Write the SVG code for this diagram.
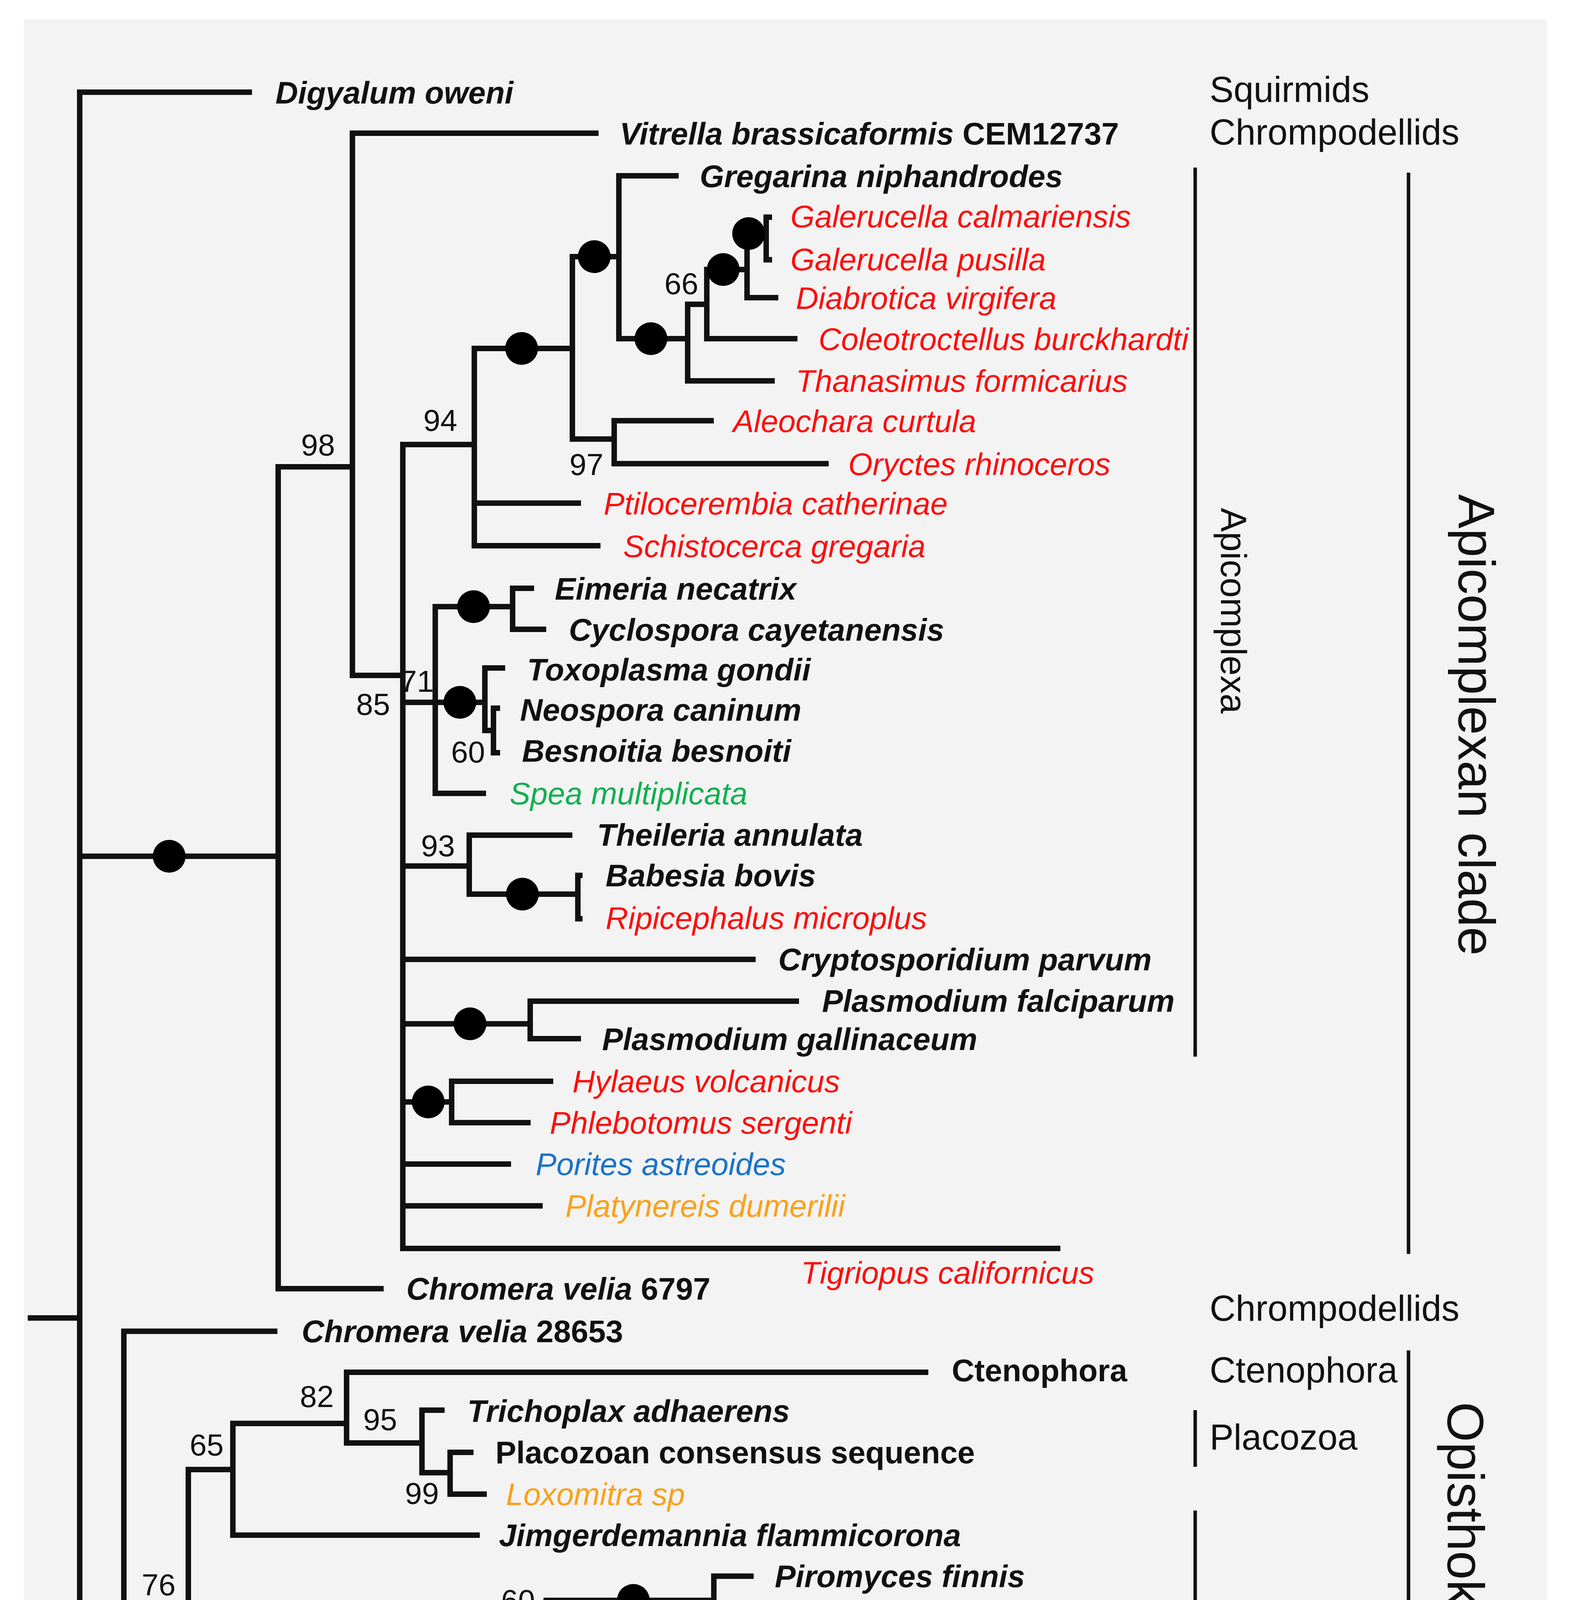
<svg xmlns="http://www.w3.org/2000/svg" width="4026" height="5242" viewBox="0 0 4026 5242">
<style>
.br{fill:none;stroke:#111;stroke-width:14;stroke-linejoin:miter;stroke-linecap:butt}
.bk{fill:none;stroke:#111;stroke-width:9}
.t{font-family:"Liberation Sans",Arial,sans-serif;font-size:80px;fill:#111}
.bi{font-weight:bold;font-style:italic}
.b{font-weight:bold}
.i{font-style:italic}
.red{fill:#ff0d0d;font-style:italic}
.grn{fill:#12b050;font-style:italic}
.blu{fill:#1a73c8;font-style:italic}
.org{fill:#f9a11b;font-style:italic}
.s{font-family:"Liberation Sans",Arial,sans-serif;font-size:78px;fill:#111;text-anchor:middle}
.g{font-family:"Liberation Sans",Arial,sans-serif;font-size:92px;fill:#111}
.c{font-family:"Liberation Sans",Arial,sans-serif;font-size:132px;fill:#111}
.dot{fill:#000}
</style>
<rect x="0" y="0" width="4026" height="5242" fill="#ffffff"/>
<rect x="61" y="50" width="3899" height="5147" fill="#f3f3f3"/>
<g id="connectors">
<path class="br" d="M645 236 H204 V4183 H317 M71 3374 H204 M204 2192 H712"/>
<path class="br" d="M902 1195 H712 V3299 H982"/>
<path class="br" d="M1532 341 H902 V1729 H1031"/>
<path class="br" d="M1214 1138 H1031 V3196 H2714 M1031 1798 H1114 M1031 2217 H1201 M1031 2456 H1934 M1031 2621 H1357 M1031 2821 H1156 M1031 2980 H1308 M1031 3087 H1389"/>
<path class="br" d="M1465 892 H1214 V1397 H1537 M1214 1288 H1487"/>
<path class="br" d="M1584 657 H1465 V1124 H1572"/>
<path class="br" d="M1737 450 H1584 V867 H1760"/>
<path class="br" d="M1809 779 H1760 V975 H1983"/>
<path class="br" d="M1912 690 H1809 V867 H2041"/>
<path class="br" d="M1961 598 H1912 V762 H1992"/>
<path class="br" d="M1976 556 H1961 V665 H1976"/>
<path class="br" d="M1827 1077 H1572 V1187 H2121"/>
<path class="br" d="M1312 1553 H1114 V2031 H1244 M1114 1798 H1241"/>
<path class="br" d="M1367 1506 H1312 V1611 H1398"/>
<path class="br" d="M1293 1710 H1241 V1870 H1263"/>
<path class="br" d="M1280 1813 H1263 V1927 H1280"/>
<path class="br" d="M1465 2138 H1201 V2289 H1479"/>
<path class="br" d="M1491 2241 H1479 V2352 H1491"/>
<path class="br" d="M2045 2563 H1357 V2659 H1487"/>
<path class="br" d="M1416 2768 H1156 V2874 H1358"/>
<path class="br" d="M710 3408 H317 V4987 H719 M317 4110 H482"/>
<path class="br" d="M596 3762 H482 V4581 H719"/>
<path class="br" d="M887 3644 H596 V3930 H1228"/>
<path class="br" d="M2376 3513 H887 V3694 H1080"/>
<path class="br" d="M1138 3610 H1080 V3770 H1152"/>
<path class="br" d="M1212 3718 H1152 V3825 H1246"/>
<path class="br" d="M987 4418 H719 V4883 H1742"/>
<path class="br" d="M1277 4264 H987 V4643 H1760"/>
<path class="br" d="M1398 4174 H1277 V4405 H1827"/>
<path class="br" d="M1827 4097 H1398 V4249 H2023"/>
<path class="br" d="M1929 4035 H1827 V4144 H1885"/>
<path class="br" d="M2023 4358 H1827 V4463 H1983"/>
<path class="br" d="M1916 4562 H1760 V4726 H1809"/>
<path class="br" d="M2081 4671 H1809 V4773 H2041"/>
</g>
<g id="support-dots">
<circle class="dot" cx="433" cy="2192" r="42"/>
<circle class="dot" cx="1335" cy="892" r="42"/>
<circle class="dot" cx="1521" cy="657" r="42"/>
<circle class="dot" cx="1666" cy="867" r="42"/>
<circle class="dot" cx="1851" cy="690" r="42"/>
<circle class="dot" cx="1916" cy="598" r="42"/>
<circle class="dot" cx="1212" cy="1553" r="42"/>
<circle class="dot" cx="1177" cy="1798" r="42"/>
<circle class="dot" cx="1337" cy="2289" r="42"/>
<circle class="dot" cx="1203" cy="2621" r="42"/>
<circle class="dot" cx="1096" cy="2821" r="42"/>
<circle class="dot" cx="846" cy="4418" r="42"/>
<circle class="dot" cx="1125" cy="4264" r="42"/>
<circle class="dot" cx="1621" cy="4097" r="42"/>
<circle class="dot" cx="1553" cy="4405" r="42"/>
<circle class="dot" cx="1342" cy="4643" r="42"/>
</g>
<g id="support-values">
<text class="s" x="814" y="1166">98</text>
<text class="s" x="1127" y="1103">94</text>
<text class="s" x="1744" y="753">66</text>
<text class="s" x="1501" y="1216">97</text>
<text class="s" x="955" y="1830">85</text>
<text class="s" x="1067" y="1771">71</text>
<text class="s" x="1198" y="1952">60</text>
<text class="s" x="1121" y="2192">93</text>
<text class="s" x="811" y="3602">82</text>
<text class="s" x="973" y="3661">95</text>
<text class="s" x="1080" y="3850">99</text>
<text class="s" x="529" y="3726">65</text>
<text class="s" x="406" y="4084">76</text>
<text class="s" x="614" y="4525">90</text>
<text class="s" x="1326" y="4124">60</text>
<text class="s" x="1742" y="4803">60</text>
</g>
<g id="taxon-digyalum"><text class="t bi" x="705" y="265">Digyalum oweni</text></g>
<g id="taxon-vitrella-cem12737"><text class="t b" x="1586" y="370"><tspan class="i">Vitrella brassicaformis</tspan> CEM12737</text></g>
<g id="taxon-gregarina"><text class="t bi" x="1791" y="479">Gregarina niphandrodes</text></g>
<g id="taxon-galerucella-calmariensis"><text class="t red" x="2023" y="582">Galerucella calmariensis</text></g>
<g id="taxon-galerucella-pusilla"><text class="t red" x="2023" y="692">Galerucella pusilla</text></g>
<g id="taxon-diabrotica"><text class="t red" x="2037" y="791">Diabrotica virgifera</text></g>
<g id="taxon-coleotroctellus"><text class="t red" x="2095" y="896">Coleotroctellus burckhardti</text></g>
<g id="taxon-thanasimus"><text class="t red" x="2037" y="1003">Thanasimus formicarius</text></g>
<g id="taxon-aleochara"><text class="t red" x="1876" y="1106">Aleochara curtula</text></g>
<g id="taxon-oryctes"><text class="t red" x="2171" y="1216">Oryctes rhinoceros</text></g>
<g id="taxon-ptilocerembia"><text class="t red" x="1545" y="1317">Ptilocerembia catherinae</text></g>
<g id="taxon-schistocerca"><text class="t red" x="1595" y="1426">Schistocerca gregaria</text></g>
<g id="taxon-eimeria"><text class="t bi" x="1420" y="1535">Eimeria necatrix</text></g>
<g id="taxon-cyclospora"><text class="t bi" x="1456" y="1640">Cyclospora cayetanensis</text></g>
<g id="taxon-toxoplasma"><text class="t bi" x="1349" y="1742">Toxoplasma gondii</text></g>
<g id="taxon-neospora"><text class="t bi" x="1331" y="1845">Neospora caninum</text></g>
<g id="taxon-besnoitia"><text class="t bi" x="1336" y="1950">Besnoitia besnoiti</text></g>
<g id="taxon-spea"><text class="t grn" x="1304" y="2059">Spea multiplicata</text></g>
<g id="taxon-theileria"><text class="t bi" x="1528" y="2165">Theileria annulata</text></g>
<g id="taxon-babesia"><text class="t bi" x="1550" y="2269">Babesia bovis</text></g>
<g id="taxon-ripicephalus"><text class="t red" x="1550" y="2378">Ripicephalus microplus</text></g>
<g id="taxon-cryptosporidium"><text class="t bi" x="1992" y="2484">Cryptosporidium parvum</text></g>
<g id="taxon-plasmodium-falciparum"><text class="t bi" x="2104" y="2590">Plasmodium falciparum</text></g>
<g id="taxon-plasmodium-gallinaceum"><text class="t bi" x="1541" y="2688">Plasmodium gallinaceum</text></g>
<g id="taxon-hylaeus"><text class="t red" x="1465" y="2796">Hylaeus volcanicus</text></g>
<g id="taxon-phlebotomus"><text class="t red" x="1407" y="2902">Phlebotomus sergenti</text></g>
<g id="taxon-porites"><text class="t blu" x="1371" y="3008">Porites astreoides</text></g>
<g id="taxon-platynereis"><text class="t org" x="1447" y="3115">Platynereis dumerilii</text></g>
<g id="taxon-tigriopus"><text class="t red" x="2050" y="3286">Tigriopus californicus</text></g>
<g id="taxon-chromera-6797"><text class="t b" x="1040" y="3327"><tspan class="i">Chromera velia</tspan> 6797</text></g>
<g id="taxon-chromera-28653"><text class="t b" x="772" y="3436"><tspan class="i">Chromera velia</tspan> 28653</text></g>
<g id="taxon-ctenophora"><text class="t b" x="2436" y="3536">Ctenophora</text></g>
<g id="taxon-trichoplax"><text class="t bi" x="1196" y="3640">Trichoplax adhaerens</text></g>
<g id="taxon-placozoan"><text class="t b" x="1268" y="3746">Placozoan consensus sequence</text></g>
<g id="taxon-loxomitra"><text class="t org" x="1295" y="3853">Loxomitra sp</text></g>
<g id="taxon-jimgerdemannia"><text class="t bi" x="1277" y="3958">Jimgerdemannia flammicorona</text></g>
<g id="taxon-piromyces"><text class="t bi" x="1983" y="4063">Piromyces finnis</text></g>
<g id="taxon-neocallimastix"><text class="t bi" x="1938" y="4172">Neocallimastix californiae</text></g>
<g id="taxon-gonapodya"><text class="t bi" x="2072" y="4277">Gonapodya prolifera</text></g>
<g id="taxon-powellomyces"><text class="t bi" x="2072" y="4386">Powellomyces hirtus</text></g>
<g id="taxon-spizellomyces"><text class="t bi" x="2032" y="4491">Spizellomyces punctatus</text></g>
<g id="taxon-acanthoeca"><text class="t bi" x="1974" y="4590">Acanthoeca spectabilis</text></g>
<g id="taxon-helgoeca"><text class="t bi" x="2135" y="4699">Helgoeca nana</text></g>
<g id="taxon-savillea"><text class="t bi" x="2090" y="4801">Savillea parva</text></g>
<g id="taxon-acanthochitona"><text class="t org" x="1796" y="4911">Acanthochitona fascicularis</text></g>
<g id="taxon-vitrella-cem06711"><text class="t b" x="772" y="5015"><tspan class="i">Vitrella brassicaformis</tspan> CEM06711</text></g>
<g id="group-labels">
<text class="g" x="3096" y="261">Squirmids</text>
<text class="g" x="3096" y="370">Chrompodellids</text>
<path class="bk" d="M3059 429 V2705"/>
<text class="g" transform="translate(3125,1300) rotate(90)">Apicomplexa</text>
<path class="bk" d="M3605 442 V3210"/>
<text class="c" transform="translate(3733,1265) rotate(90)">Apicomplexan clade</text>
<text class="g" x="3096" y="3381">Chrompodellids</text>
<text class="g" x="3096" y="3539">Ctenophora</text>
<path class="bk" d="M3059 3610 V3755"/>
<text class="g" x="3096" y="3711">Placozoa</text>
<path class="bk" d="M3059 3867 V4456"/>
<text class="g" x="3096" y="4230">Fungi</text>
<path class="bk" d="M3059 4538 V4803"/>
<text class="g" x="3096" y="4628">Choano-</text>
<text class="g" x="3096" y="4743">flagellata</text>
<path class="bk" d="M3605 3457 V4870"/>
<text class="c" transform="translate(3705,3589) rotate(90)">Opisthokonta clade</text>
<text class="g" x="3096" y="5013">Chrompodellids</text>
</g>
<g id="scale-bar">
<path d="M250 5160 H991" fill="none" stroke="#111" stroke-width="11" stroke-dasharray="43 28"/>
<text class="t" x="1071" y="5184">0.5 expected changes per site</text>
</g>
</svg>
